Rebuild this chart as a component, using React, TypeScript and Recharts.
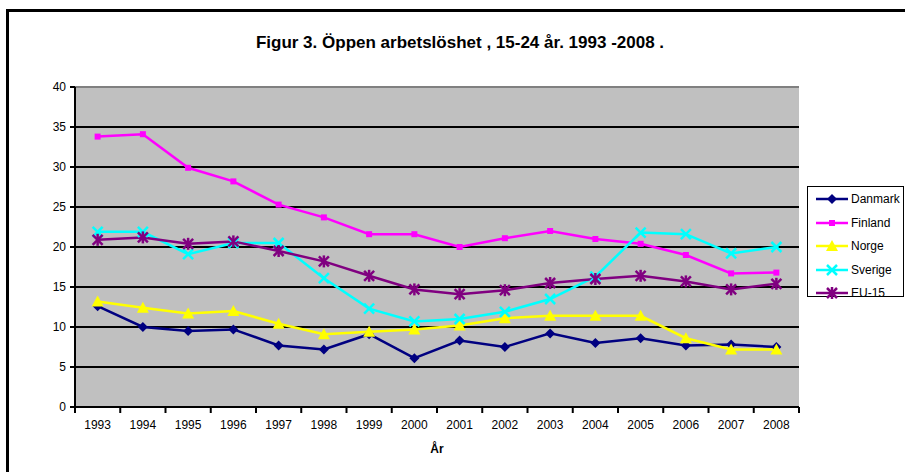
import React from 'react'
import { LineChart, Line, XAxis, YAxis, CartesianGrid, ReferenceLine } from 'recharts'

const years = ['1993', '1994', '1995', '1996', '1997', '1998', '1999', '2000', '2001', '2002', '2003', '2004', '2005', '2006', '2007', '2008']
const danmark = [12.6, 10.0, 9.5, 9.7, 7.7, 7.2, 9.1, 6.1, 8.3, 7.5, 9.2, 8.0, 8.6, 7.7, 7.8, 7.5]
const finland = [33.8, 34.1, 29.9, 28.2, 25.3, 23.7, 21.6, 21.6, 20.0, 21.1, 22.0, 21.0, 20.4, 19.0, 16.7, 16.8]
const norge = [13.2, 12.4, 11.7, 12.0, 10.4, 9.1, 9.4, 9.7, 10.2, 11.1, 11.4, 11.4, 11.4, 8.6, 7.2, 7.2]
const sverige = [21.9, 21.9, 19.1, 20.5, 20.5, 16.1, 12.3, 10.7, 11.0, 11.9, 13.5, 16.3, 21.8, 21.6, 19.2, 20.0]
const eu15 = [20.9, 21.2, 20.4, 20.7, 19.5, 18.2, 16.4, 14.7, 14.1, 14.6, 15.5, 16.0, 16.4, 15.7, 14.7, 15.4]
const yTicks = [0, 5, 10, 15, 20, 25, 30, 35, 40]

const data = years.map((y, i) => ({
  year: y,
  Danmark: danmark[i],
  Finland: finland[i],
  Norge: norge[i],
  Sverige: sverige[i],
  'EU-15': eu15[i],
}))

const W = 905
const H = 472
const PLOT_L = 75
const PLOT_R = 799
const PLOT_T = 87
const PLOT_B = 407
const BAND = (PLOT_R - PLOT_L) / years.length
const FONT = '"Liberation Sans", Arial, sans-serif'

type Kind = 'diamond' | 'square' | 'triangle' | 'x' | 'star'

function Marker({ cx, cy, kind, color }: { cx: number; cy: number; kind: Kind; color: string }) {
  if (kind === 'diamond') {
    const s = 5
    return <polygon points={`${cx},${cy - s} ${cx + s},${cy} ${cx},${cy + s} ${cx - s},${cy}`} fill={color} />
  }
  if (kind === 'square') {
    return <rect x={cx - 3} y={cy - 3} width={6} height={6} fill={color} />
  }
  if (kind === 'triangle') {
    const s = 6
    return <polygon points={`${cx},${cy - s} ${cx + s},${cy + s - 1} ${cx - s},${cy + s - 1}`} fill={color} />
  }
  const s = 5
  return (
    <g stroke={color} strokeWidth={2.5}>
      <line x1={cx - s} y1={cy - s} x2={cx + s} y2={cy + s} />
      <line x1={cx - s} y1={cy + s} x2={cx + s} y2={cy - s} />
      {kind === 'star' && <line x1={cx} y1={cy - s - 1} x2={cx} y2={cy + s + 1} />}
    </g>
  )
}

const series: { key: string; color: string; kind: Kind }[] = [
  { key: 'Danmark', color: '#000080', kind: 'diamond' },
  { key: 'Finland', color: '#ff00ff', kind: 'square' },
  { key: 'Norge', color: '#ffff00', kind: 'triangle' },
  { key: 'Sverige', color: '#00ffff', kind: 'x' },
  { key: 'EU-15', color: '#800080', kind: 'star' },
]

function XTick(props: any) {
  const { x, payload, index } = props
  const last = index === years.length - 1
  return (
    <g>
      <line x1={x - BAND / 2} y1={PLOT_B} x2={x - BAND / 2} y2={PLOT_B + 6} stroke="#000" strokeWidth={2} />
      {last && <line x1={x + BAND / 2} y1={PLOT_B} x2={x + BAND / 2} y2={PLOT_B + 6} stroke="#000" strokeWidth={2} />}
      <text x={x} y={PLOT_B + 22} textAnchor="middle" fontSize={12} fill="#000" fontFamily={FONT}>
        {payload.value}
      </text>
    </g>
  )
}

function LegendBox() {
  return (
    <div
      style={{
        position: 'absolute',
        left: 807,
        top: 186,
        width: 95,
        height: 109,
        border: '1.5px solid #000',
        background: '#fff',
        fontFamily: FONT,
        fontSize: 12,
      }}
    >
      {series.map((s, i) => (
        <div key={s.key} style={{ position: 'absolute', left: 6, top: 4 + i * 23.5, height: 16, display: 'flex', alignItems: 'center' }}>
          <svg width={36} height={16}>
            <line x1={2} y1={8} x2={34} y2={8} stroke={s.color} strokeWidth={2.5} />
            <Marker cx={18} cy={8} kind={s.kind} color={s.color} />
          </svg>
          <span style={{ marginLeft: 1 }}>{s.key}</span>
        </div>
      ))}
    </div>
  )
}

export default function App() {
  return (
    <div style={{ position: 'absolute', left: 0, top: 0, width: W, height: H, background: '#fff', overflow: 'hidden' }}>
      <div style={{ position: 'absolute', left: 6, top: 9, width: W, height: H, borderTop: '3px solid #000', borderLeft: '3px solid #000' }} />
      <div
        style={{
          position: 'absolute',
          left: 0,
          top: 33,
          width: 920,
          textAlign: 'center',
          fontFamily: FONT,
          fontWeight: 'bold',
          fontSize: 17,
        }}
      >
        Figur 3. Öppen arbetslöshet , 15-24 år. 1993 -2008 .
      </div>
      <div style={{ position: 'absolute', left: PLOT_L, top: 442, width: PLOT_R - PLOT_L, textAlign: 'center', fontFamily: FONT, fontWeight: 'bold', fontSize: 12 }}>
        År
      </div>
      <div style={{ position: 'absolute', left: 0, top: 0 }}>
        <LineChart width={W} height={H} data={data} margin={{ top: PLOT_T, right: W - PLOT_R, bottom: 35, left: 0 }}>
          <CartesianGrid yAxisId="l" horizontal={false} vertical={false} fill="#c0c0c0" />
          {yTicks.slice(1, -1).map((v) => (
            <ReferenceLine key={v} yAxisId="l" y={v} stroke="#000" strokeWidth={2} />
          ))}
          <ReferenceLine yAxisId="l" y={40} stroke="#808080" strokeWidth={2} />
          <XAxis
            dataKey="year"
            height={30}
            padding={{ left: BAND / 2, right: BAND / 2 }}
            interval={0}
            tickLine={false}
            axisLine={{ stroke: '#000', strokeWidth: 2 }}
            tick={<XTick />}
          />
          <YAxis
            yAxisId="l"
            width={PLOT_L}
            domain={[0, 40]}
            ticks={yTicks}
            interval={0}
            tickSize={5}
            tickMargin={4}
            axisLine={{ stroke: '#000', strokeWidth: 2 }}
            tickLine={{ stroke: '#000', strokeWidth: 2 }}
            tick={{ fill: '#000', fontSize: 12, fontFamily: FONT }}
          />
          <YAxis
            yAxisId="r"
            orientation="right"
            width={0}
            domain={[0, 40]}
            tick={false}
            tickLine={false}
            axisLine={{ stroke: '#808080', strokeWidth: 2 }}
          />
          {series.map((s) => (
            <Line
              key={s.key}
              yAxisId="l"
              dataKey={s.key}
              stroke={s.color}
              strokeWidth={2.5}
              isAnimationActive={false}
              dot={(p: any) => <Marker key={`${s.key}-${p.index}`} cx={p.cx} cy={p.cy} kind={s.kind} color={s.color} />}
              activeDot={false}
            />
          ))}
        </LineChart>
      </div>
      <LegendBox />
    </div>
  )
}
